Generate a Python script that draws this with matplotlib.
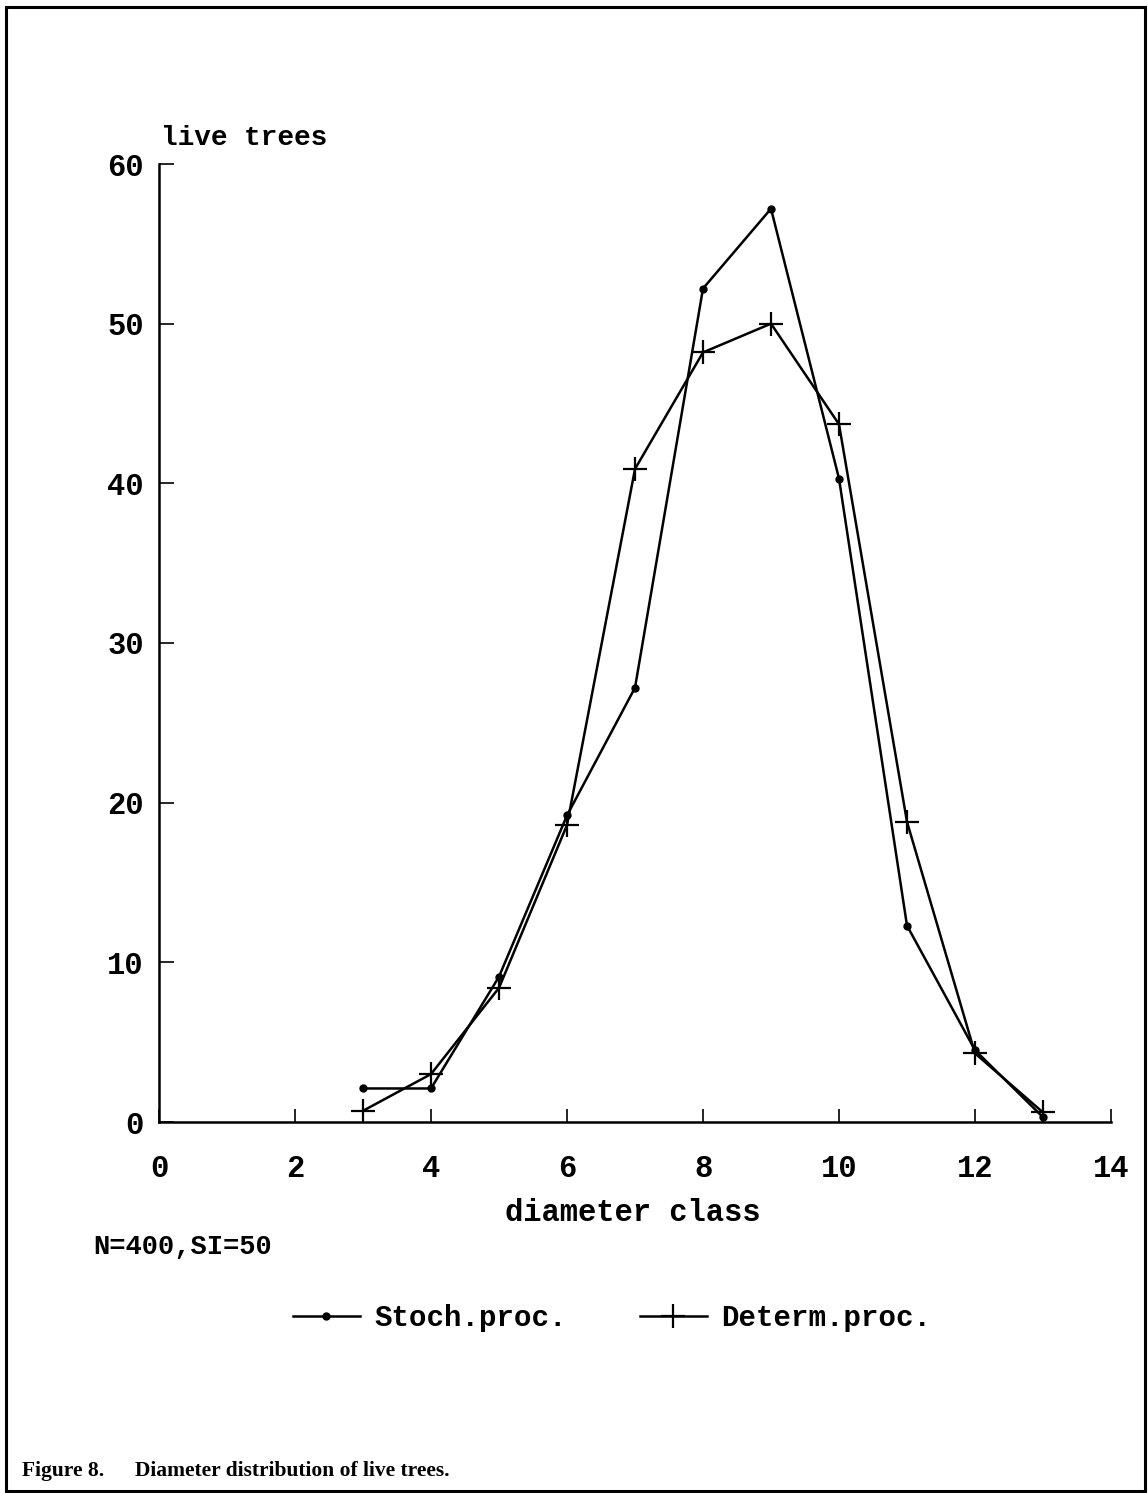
import matplotlib
matplotlib.use("Agg")
import matplotlib.pyplot as plt
from matplotlib.patches import Rectangle

# diameter classes and number of live trees per class
diam_class = [3, 4, 5, 6, 7, 8, 9, 10, 11, 12, 13]
stoch = [2.1, 2.1, 9.1, 19.2, 27.2, 52.2, 57.2, 40.3, 12.3, 4.5, 0.3]
determ = [0.7, 3.0, 8.4, 18.6, 40.9, 48.2, 50.0, 43.7, 18.8, 4.3, 0.6]

x_ticks = [0, 2, 4, 6, 8, 10, 12, 14]
y_ticks = [0, 10, 20, 30, 40, 50, 60]

W, H = 1148, 1493
mono = "Liberation Mono"


def fx(px):
    return px / W


def fy(py):
    return 1 - py / H


fig = plt.figure(figsize=(W / 100, H / 100), dpi=100)
ax = fig.add_axes([fx(159), fy(1122), fx(1111) - fx(159), fy(164) - fy(1122)])

ln1, = ax.plot(diam_class, stoch, color="black", lw=1.8, marker="o",
               markersize=5, label="Stoch.proc.")
ln2, = ax.plot(diam_class, determ, color="black", lw=1.8, marker="+",
               markersize=17, markeredgewidth=1.6, label="Determ.proc.")

ax.set_xlim(0, 14)
ax.set_ylim(0, 60)
ax.set_xticks(x_ticks)
ax.set_yticks(y_ticks)
ax.spines["top"].set_visible(False)
ax.spines["right"].set_visible(False)
for s in ["left", "bottom"]:
    ax.spines[s].set_linewidth(1.8)
ax.tick_params(axis="x", direction="in", length=9.5, width=1.2, pad=23)
ax.tick_params(axis="y", direction="in", length=10.5, width=1.2, pad=11)
for lab in ax.get_xticklabels() + ax.get_yticklabels():
    lab.set_fontfamily(mono)
    lab.set_fontweight("bold")
    lab.set_fontsize(22)

fig.text(fx(161), fy(145), "live trees", family=mono, weight="bold",
         fontsize=20, ha="left", va="baseline")
fig.text(fx(633), fy(1213), "diameter class", family=mono, weight="bold",
         fontsize=22, ha="center", va="center")
fig.text(fx(93), fy(1247), "N=400,SI=50", family=mono, weight="bold",
         fontsize=19.5, ha="left", va="center")

fig.legend(handles=[ln1, ln2], loc="center", ncol=2, frameon=False,
           bbox_to_anchor=(fx(612), fy(1318)),
           prop={"family": mono, "weight": "bold", "size": 21},
           handlelength=2.3, handletextpad=0.5, columnspacing=2.5)

cap_font = dict(family="Liberation Serif", weight="bold", fontsize=15.5,
                ha="left", va="center")
fig.text(fx(22), fy(1471), "Figure 8.", **cap_font)
fig.text(fx(135), fy(1471), "Diameter distribution of live trees.", **cap_font)

# frame around the whole figure
fig.patches.append(Rectangle((fx(6), fy(1491)), fx(1145) - fx(6), fy(7) - fy(1491),
                             transform=fig.transFigure, fill=False,
                             edgecolor="black", linewidth=2.2))

fig.savefig("out.png", dpi=100, facecolor="white")
